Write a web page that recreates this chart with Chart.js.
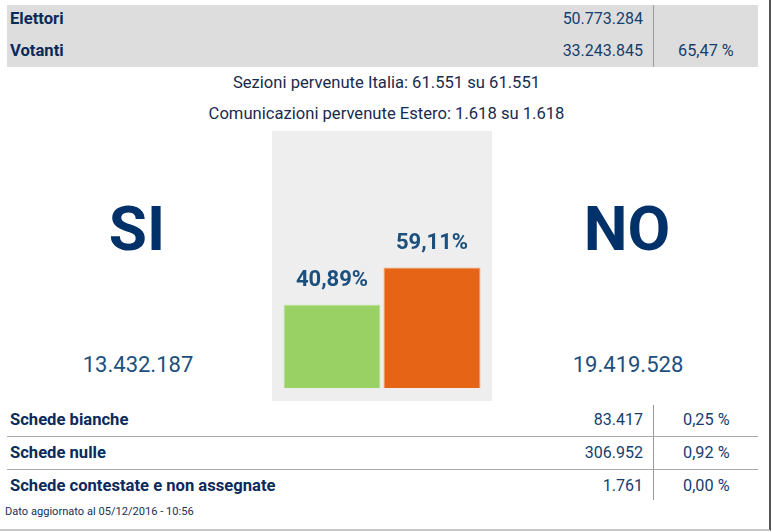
<!DOCTYPE html>
<html>
<head>
<meta charset="utf-8">
<script src="https://cdn.jsdelivr.net/npm/chart.js@4.4.1/dist/chart.umd.min.js"></script>
<style>
  html,body{margin:0;padding:0;background:#fff;}
  body{width:773px;height:532px;position:relative;overflow:hidden;font-family:Roboto,"Open Sans",sans-serif;color:#0d2b5e;}
  .abs{position:absolute;white-space:nowrap;}
  .frame{position:absolute;left:0;top:0;width:769px;height:529px;border-right:2px solid #555;border-bottom:2px solid #c8c8c8;}
  .topbg{position:absolute;left:7px;top:5px;width:751px;height:62px;background:#dddddd;}
  .vline{position:absolute;width:1px;background:#999;}
  .hline{position:absolute;height:1px;background:#aaa;left:7px;width:751px;}
  .lbl{font-weight:bold;font-size:16.6px;left:10px;line-height:20px;color:#0b2a5c;}
  .num{font-size:16px;line-height:20px;text-align:right;right:130px;color:#163d6e;}
  .pct{font-size:16.3px;line-height:20px;left:680px;color:#163d6e;}
  .mid{font-size:16.6px;line-height:20px;width:773px;left:0;text-align:center;color:#1a2a4f;}
  .big{font-weight:bold;font-size:62px;line-height:62px;color:#003168;text-align:center;width:240px;}
  .cnt{font-size:22px;line-height:26px;color:#1b4f7e;text-align:center;width:240px;}
  #wrap{position:absolute;left:272px;top:131px;width:220px;height:270px;}
</style>
</head>
<body>
<div class="frame"></div>
<div class="topbg"></div>
<div class="vline" style="left:653px;top:5px;height:62px;"></div>
<div id="topRows"></div>
<div id="midText"></div>
<div id="wrap"><canvas id="c" width="220" height="270"></canvas></div>
<div id="sides"></div>
<div class="hline" style="top:436px;"></div>
<div class="hline" style="top:469px;"></div>
<div class="vline" style="left:653px;top:405px;height:95px;"></div>
<div id="botRows"></div>
<div class="abs" style="left:5px;top:504px;font-size:11.1px;line-height:16px;color:#1a2f55;">Dato aggiornato al 05/12/2016 - 10:56</div>
<script>
// ---- data ----
const topLabels = ["Elettori", "Votanti"];
const topValues = ["50.773.284", "33.243.845"];
const topPercents = ["", "65,47 %"];
const infoLines = ["Sezioni pervenute Italia: 61.551 su 61.551", "Comunicazioni pervenute Estero: 1.618 su 1.618"];
const categories = ["SI", "NO"];
const votePercents = [40.89, 59.11];
const voteCounts = ["13.432.187", "19.419.528"];
const percentLabels = ["40,89%", "59,11%"];
const bottomLabels = ["Schede bianche", "Schede nulle", "Schede contestate e non assegnate"];
const bottomValues = ["83.417", "306.952", "1.761"];
const bottomPercents = ["0,25 %", "0,92 %", "0,00 %"];
const barColors = ["#9ad164", "#e66416"];
const barBorders = ["#c9e6ac", "#f2a070"];

// ---- text layout ----
function el(parent, cls, style, text){const d=document.createElement('div');d.className='abs '+cls;d.setAttribute('style',style);d.textContent=text;parent.appendChild(d);return d;}
const tr=document.getElementById('topRows');
topLabels.forEach((t,i)=>{
  const top = 9 + i*32;
  el(tr,'lbl','top:'+top+'px;',t);
  el(tr,'num','top:'+top+'px;',topValues[i]);
  if(topPercents[i]) el(tr,'pct','top:'+top+'px;left:678px;',topPercents[i]);
});
const mt=document.getElementById('midText');
infoLines.forEach((t,i)=>{ el(mt,'mid','top:'+(73+i*31)+'px;',t); });
const sd=document.getElementById('sides');
const sideCenters=[137,627];
categories.forEach((c,i)=>{
  el(sd,'big','top:198px;left:'+(sideCenters[i]-120)+'px;',c);
  el(sd,'cnt','top:352px;left:'+(sideCenters[i]+1-120)+'px;',voteCounts[i]);
});
const br=document.getElementById('botRows');
bottomLabels.forEach((t,i)=>{
  const top = 410 + i*33;
  el(br,'lbl','top:'+top+'px;',t);
  el(br,'num','top:'+top+'px;',bottomValues[i]);
  el(br,'pct','top:'+top+'px;left:683px;',bottomPercents[i]);
});

// ---- chart ----
const labelPlugin = {
  id:'barLabels',
  beforeDraw(chart){
    const ctx=chart.ctx; ctx.save(); ctx.fillStyle='#eeeeee'; ctx.fillRect(0,0,chart.width,chart.height); ctx.restore();
  },
  afterDatasetsDraw(chart){
    const ctx=chart.ctx; const meta=chart.getDatasetMeta(0);
    ctx.save();
    ctx.font='bold 22px Roboto, "Open Sans", sans-serif';
    ctx.fillStyle='#1b4f7e'; ctx.textAlign='center'; ctx.textBaseline='bottom';
    meta.data.forEach((bar,i)=>{ ctx.fillText(percentLabels[i], bar.x, bar.y-13); });
    ctx.restore();
  }
};
new Chart(document.getElementById('c'),{
  type:'bar',
  data:{labels:categories,datasets:[{data:votePercents,backgroundColor:barColors,borderColor:barBorders,borderWidth:1,barPercentage:0.97,categoryPercentage:1}]},
  options:{
    responsive:false,animation:false,devicePixelRatio:1,
    layout:{padding:{left:10,right:10,top:53,bottom:13}},
    plugins:{legend:{display:false},tooltip:{enabled:false}},
    scales:{
      x:{display:false},
      y:{display:false,min:0,max:100}
    }
  },
  plugins:[labelPlugin]
});
</script>
</body>
</html>
